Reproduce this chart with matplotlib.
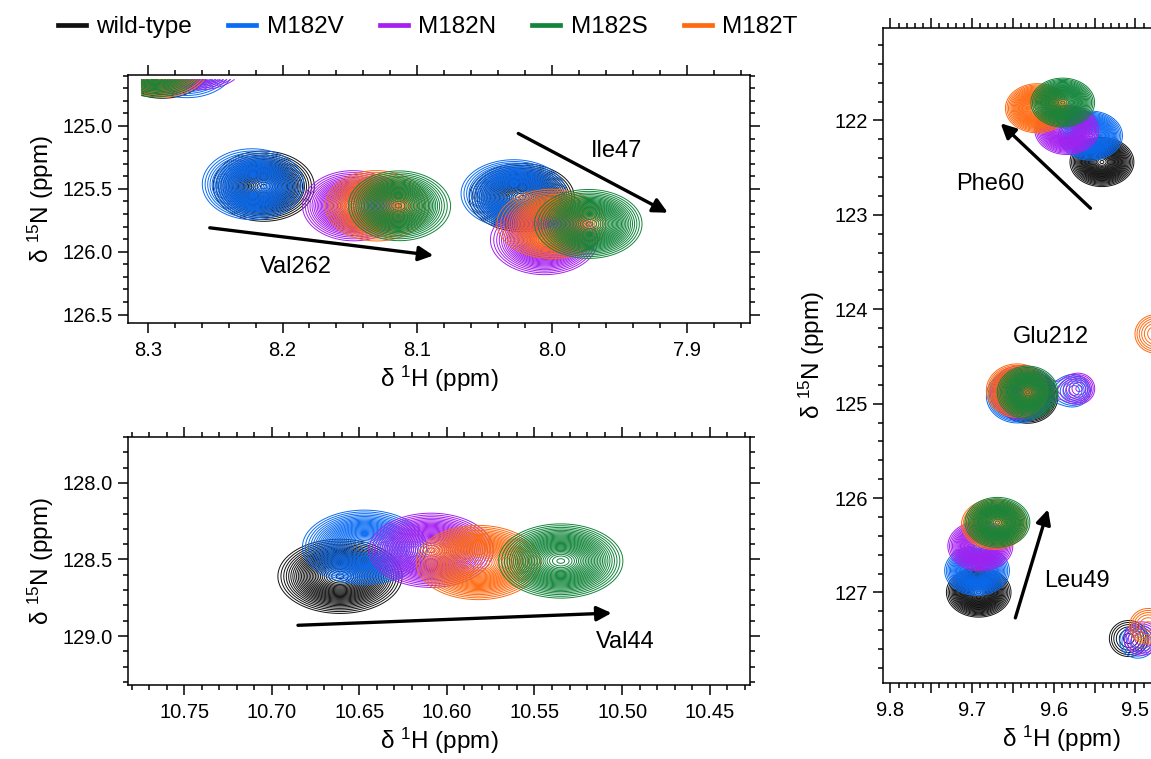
import numpy as np
import matplotlib
matplotlib.use("Agg")
import matplotlib.pyplot as plt
from matplotlib.lines import Line2D
from matplotlib.ticker import MultipleLocator, FuncFormatter, FormatStrFormatter

plt.rcParams['font.family'] = ['Liberation Sans', 'DejaVu Sans']
plt.rcParams['mathtext.default'] = 'regular'
plt.rcParams['mathtext.fontset'] = 'custom'
plt.rcParams['mathtext.rm'] = 'Liberation Sans'

# ---------------- data ----------------
variants = ["wild-type", "M182V", "M182N", "M182S", "M182T"]
colors = ["#111111", "#0A6CF5", "#A51FF0", "#12853A", "#FF6A10"]
draw_order = [0, 1, 2, 4, 3]

# peak centres, order: wild-type, M182V, M182N, M182S, M182T
val262_h = [8.214, 8.222, 8.148, 8.114, 8.131]
val262_n = [125.483, 125.47, 125.635, 125.635, 125.635]
ile47_h = [8.022, 8.028, 8.005, 7.972, 7.999]
ile47_n = [125.57, 125.54, 125.91, 125.78, 125.78]
corner_h = [8.29, 8.272, 8.262, 8.295, 8.29]
corner_n = [124.50, 124.49, 124.44, 124.50, 124.50]

val44_h = [10.661, 10.647, 10.609, 10.535, 10.582]
val44_n = [128.61, 128.42, 128.44, 128.51, 128.52]

phe60_h = [9.541, 9.555, 9.584, 9.589, 9.620]
phe60_n = [122.44, 122.16, 122.10, 121.81, 121.87]
glu212_h = [9.632, 9.645, 9.640, 9.632, 9.645]
glu212_n = [124.93, 124.92, 124.88, 124.88, 124.86]
leu49_h = [9.692, 9.694, 9.690, 9.669, 9.673]
leu49_n = [127.00, 126.77, 126.51, 126.26, 126.28]
minor1_h = [9.571, 9.574, 9.568, 9.571, 9.571]
minor1_n = [124.85, 124.86, 124.84, 124.85, 124.85]
minor1_amp = [0.0, 0.085, 0.08, 0.0, 0.0]
minor2_h = [9.508, 9.497, 9.492, 9.49, 9.484]
minor2_n = [127.49, 127.52, 127.49, 127.45, 127.36]
minor2_amp = [0.085, 0.08, 0.08, 0.0, 0.085]
minor3_h = [9.475, 9.475, 9.475, 9.475, 9.475]
minor3_n = [124.26, 124.26, 124.26, 124.26, 124.26]
minor3_amp = [0.0, 0.0, 0.0, 0.0, 0.09]

levels = np.geomspace(0.05, 0.97, 30)


def shape(r2):
    return 0.5 / (1 + r2) + 0.5 * np.exp(-np.log(2) * r2)


def spectrum(X, Y, peaks, i):
    Z = np.zeros_like(X)
    for hs, ns, amps, wx, wy in peaks:
        a = amps[i]
        if a <= 0:
            continue
        r2 = ((X - hs[i]) / wx) ** 2 + ((Y - ns[i]) / wy) ** 2
        Z += a * shape(r2)
    return Z


def draw_panel(ax, xr, yr, peaks, nx=500, ny=400):
    xs = np.linspace(xr[0], xr[1], nx)
    ys = np.linspace(yr[0], yr[1], ny)
    X, Y = np.meshgrid(xs, ys)
    for i in draw_order:
        Z = spectrum(X, Y, peaks, i)
        ax.contour(X, Y, Z, levels=levels, colors=colors[i], linewidths=0.7)


full = [1, 1, 1, 1, 1]

W, H = 1151, 759
fig = plt.figure(figsize=(W / 100, H / 100), dpi=100)


def frac(l, t, r, b):
    return [l / W, 1 - b / H, (r - l) / W, (b - t) / H]


ax1 = fig.add_axes(frac(128, 75, 750, 323))
ax2 = fig.add_axes(frac(128, 437, 750, 685))
ax3 = fig.add_axes(frac(883, 28, 1240, 683))

# --- top-left ---
draw_panel(ax1, (7.86, 8.305), (124.63, 126.55), [
    (val262_h, val262_n, full, 0.0117, 0.087),
    (ile47_h, ile47_n, full, 0.0125, 0.087),
    (corner_h, corner_n, full, 0.0117, 0.087),
])
ax1.set_xlim(8.3147, 7.853)
ax1.set_ylim(126.567, 124.595)
ax1.xaxis.set_major_locator(MultipleLocator(0.1))
ax1.xaxis.set_minor_locator(MultipleLocator(0.02))
ax1.yaxis.set_major_locator(MultipleLocator(0.5))
ax1.yaxis.set_minor_locator(MultipleLocator(0.1))
ax1.xaxis.set_major_formatter(FormatStrFormatter('%.1f'))
ax1.yaxis.set_major_formatter(FormatStrFormatter('%.1f'))

# --- bottom-left ---
draw_panel(ax2, (10.43, 10.78), (127.72, 129.3), [
    (val44_h, val44_n, full, 0.0117, 0.08),
])
ax2.set_xlim(10.782, 10.427)
ax2.set_ylim(129.32, 127.70)
ax2.xaxis.set_major_locator(MultipleLocator(0.05))
ax2.xaxis.set_minor_locator(MultipleLocator(0.01))
ax2.yaxis.set_major_locator(MultipleLocator(0.5))
ax2.yaxis.set_minor_locator(MultipleLocator(0.1))
ax2.xaxis.set_major_formatter(FormatStrFormatter('%.2f'))
ax2.yaxis.set_major_formatter(FormatStrFormatter('%.1f'))

# --- right ---
draw_panel(ax3, (9.37, 9.80), (121.05, 127.9), [
    (phe60_h, phe60_n, full, 0.0128, 0.085),
    (glu212_h, glu212_n, full, 0.012, 0.09),
    (leu49_h, leu49_n, full, 0.0128, 0.085),
    (minor1_h, minor1_n, minor1_amp, 0.018, 0.15),
    (minor2_h, minor2_n, minor2_amp, 0.026, 0.21),
    (minor3_h, minor3_n, minor3_amp, 0.026, 0.21),
], nx=400, ny=900)
ax3.set_xlim(9.809, 9.372)
ax3.set_ylim(127.96, 121.02)
ax3.xaxis.set_major_locator(MultipleLocator(0.05))
ax3.xaxis.set_minor_locator(MultipleLocator(0.01))
ax3.yaxis.set_major_locator(MultipleLocator(1))
ax3.yaxis.set_minor_locator(MultipleLocator(0.2))


def right_fmt(v, p):
    if v < 9.46:
        return ""
    return f"{v:.1f}" if abs(round(v * 10) - v * 10) < 1e-6 else ""


ax3.xaxis.set_major_formatter(FuncFormatter(right_fmt))
ax3.yaxis.set_major_formatter(FormatStrFormatter('%d'))

for ax in (ax1, ax2, ax3):
    ax.tick_params(which='both', direction='out', top=True, right=True,
                   labeltop=False, labelright=False, width=1.1,
                   labelsize=14.5, color='black')
    ax.tick_params(which='major', length=7)
    ax.tick_params(which='minor', length=3.6)
    ax.tick_params(axis='x', which='major', pad=6)
    ax.tick_params(axis='y', which='major', pad=4)
    for s in ax.spines.values():
        s.set_linewidth(1.1)
    ax.set_xlabel('δ $^{1}$H (ppm)', fontsize=17.5, labelpad=3)
    ax.set_ylabel('δ $^{15}$N (ppm)', fontsize=17.5, labelpad=5)

arrow = dict(arrowstyle='-|>', lw=2.4, color='black', mutation_scale=22,
             shrinkA=0, shrinkB=0)
tkw = dict(fontsize=17, ha='center', va='center')


def arr(ax, x0, y0, x1, y1):
    ax.annotate('', xy=(x1, y1), xytext=(x0, y0), arrowprops=arrow)


arr(ax1, 8.254, 125.81, 8.088, 126.03)
ax1.text(8.190, 126.12, 'Val262', **tkw)
arr(ax1, 8.025, 125.06, 7.914, 125.69)
ax1.text(7.952, 125.20, 'Ile47', **tkw)

arr(ax2, 10.685, 128.93, 10.506, 128.85)
ax2.text(10.498, 129.04, 'Val44', **tkw)

arr(ax3, 9.555, 122.93, 9.665, 122.03)
ax3.text(9.678, 122.67, 'Phe60', **tkw)
ax3.text(9.604, 124.29, 'Glu212', **tkw)
arr(ax3, 9.647, 127.27, 9.607, 126.12)
ax3.text(9.571, 126.88, 'Leu49', **tkw)

handles = [Line2D([], [], color=c, lw=3.4) for c in colors]
fig.legend(handles, variants, loc='center left', ncol=5, frameon=False,
           bbox_to_anchor=(58 / W, 1 - 27 / H), borderaxespad=0, borderpad=0,
           handlelength=1.15, handletextpad=0.42, columnspacing=1.5,
           fontsize=17.5)

fig.savefig('out.png', dpi=100)
